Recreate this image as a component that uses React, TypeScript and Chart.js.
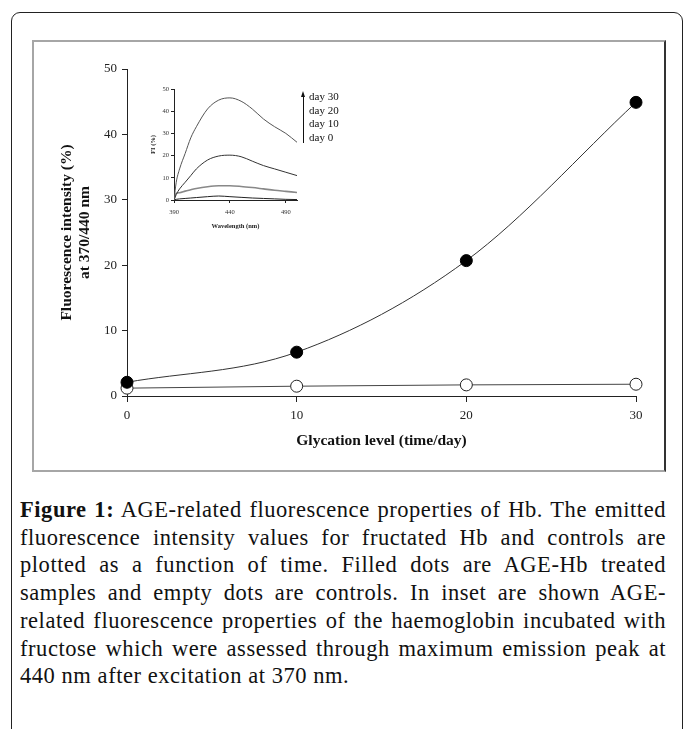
import React, { useEffect, useRef } from "react";
import { Chart, registerables } from "chart.js";

Chart.register(...registerables);

// ---- main chart data ----
const days = [0, 10, 20, 30];
const ageHb = [2.1, 6.7, 20.7, 44.9];
const controlHb = [1.2, 1.5, 1.7, 1.8];
const mainXTicks = [0, 10, 20, 30];
const mainYTicks = [0, 10, 20, 30, 40, 50];
const mainXTitle = "Glycation level (time/day)";
const mainYTitle = ["Fluorescence intensity (%)", "at 370/440 nm"];

// ---- inset data ----
const wavelengths = [390, 392, 395, 400, 405, 410, 420, 430, 440, 450, 460, 470, 480, 490, 500];
const day30 = [0, 8, 14, 21, 28, 33, 41, 45, 46, 44.5, 41, 36.5, 33, 30, 26];
const day20 = [0, 2.5, 5, 8, 11, 14, 18, 19.8, 20.2, 19.5, 17.5, 15.5, 14, 12.5, 11];
const day10 = [0, 3, 3.3, 4, 4.6, 5.2, 6, 6.4, 6.4, 6.1, 5.6, 5, 4.4, 3.9, 3.4];
const day0 = [0, 0.3, 0.5, 0.7, 0.9, 1.1, 1.5, 1.8, 1.5, 1.2, 0.9, 0.7, 0.5, 0.3, 0.2];
const insetXTicks = [390, 440, 490];
const insetYTicks = [0, 10, 20, 30, 40, 50];
const insetXTitle = "Wavelength (nm)";
const insetYTitle = "FI (%)";
const legendLabels = ["day 30", "day 20", "day 10", "day 0"];

const captionBold = "Figure 1:";
const captionLines = [
  " AGE-related fluorescence properties of Hb. The emitted",
  "fluorescence intensity values for fructated Hb and controls are",
  "plotted as a function of time. Filled dots are AGE-Hb treated",
  "samples and empty dots are controls. In inset are shown AGE-",
  "related fluorescence properties of the haemoglobin incubated with",
  "fructose which were assessed through maximum emission peak at",
  "440 nm after excitation at 370 nm.",
];

const SERIF = "'Liberation Serif', 'Times New Roman', serif";

const setTicks = (vals: number[]) => (s: any) => {
  s.ticks = vals.map((v) => ({ value: v }));
};

function MainChart() {
  const ref = useRef<HTMLCanvasElement>(null);
  useEffect(() => {
    const chart = new Chart(ref.current!, {
      type: "line",
      data: {
        datasets: [
          {
            data: days.map((d, i) => ({ x: d, y: ageHb[i] })),
            borderColor: "#333",
            borderWidth: 1,
            pointRadius: 6,
            pointBackgroundColor: "#000",
            pointBorderColor: "#000",
            pointBorderWidth: 1,
            cubicInterpolationMode: "monotone",
            clip: false,
          } as any,
          {
            data: days.map((d, i) => ({ x: d, y: controlHb[i] })),
            borderColor: "#444",
            borderWidth: 1,
            pointRadius: 6,
            pointBackgroundColor: "#fff",
            pointBorderColor: "#222",
            pointBorderWidth: 1,
            tension: 0,
            clip: false,
          } as any,
        ],
      },
      options: {
        animation: false,
        responsive: false,
        devicePixelRatio: 1,
        layout: { padding: { left: 0, top: 27, right: 28, bottom: 0 } },
        plugins: { legend: { display: false }, tooltip: { enabled: false } },
        scales: {
          x: {
            type: "linear",
            min: 0,
            max: 30,
            afterBuildTicks: setTicks(mainXTicks),
            ticks: { color: "#222", font: { family: SERIF, size: 13 }, padding: 6 },
            grid: { drawOnChartArea: false, tickLength: 6, color: "#222" },
            border: { color: "#222", width: 1 },
            title: {
              display: true,
              text: mainXTitle,
              color: "#111",
              font: { family: SERIF, size: 15.5, weight: "bold", lineHeight: "18px" },
              padding: { top: 0, bottom: 20 },
            },
            afterFit: (s: any) => {
              s.height = 74;
            },
          },
          y: {
            type: "linear",
            min: 0,
            max: 50,
            afterBuildTicks: setTicks(mainYTicks),
            ticks: { color: "#222", font: { family: SERIF, size: 13 }, padding: 5 },
            grid: { drawOnChartArea: false, tickLength: 5, color: "#222" },
            border: { color: "#222", width: 1 },
            title: {
              display: true,
              text: mainYTitle,
              color: "#111",
              font: { family: SERIF, size: 15.5, weight: "bold", lineHeight: "18px" },
              padding: { top: 24, bottom: 0 },
            },
            afterFit: (s: any) => {
              s.width = 93;
            },
          },
        },
      } as any,
    });
    return () => chart.destroy();
  }, []);
  return (
    <canvas
      ref={ref}
      width={630}
      height={428}
      style={{ position: "absolute", left: 34, top: 42, width: 630, height: 428 }}
    />
  );
}

function InsetChart() {
  const ref = useRef<HTMLCanvasElement>(null);
  useEffect(() => {
    const mk = (vals: number[], color: string, w: number) => ({
      data: wavelengths.map((x, i) => ({ x, y: vals[i] })),
      borderColor: color,
      borderWidth: w,
      pointRadius: 0,
      cubicInterpolationMode: "monotone",
    });
    const chart = new Chart(ref.current!, {
      type: "line",
      data: {
        datasets: [
          mk(day30, "#555", 1),
          mk(day20, "#333", 1),
          mk(day10, "#888", 1.6),
          mk(day0, "#222", 1),
        ] as any,
      },
      options: {
        animation: false,
        responsive: false,
        devicePixelRatio: 1,
        layout: { padding: { left: 0, top: 9, right: 5, bottom: 0 } },
        plugins: { legend: { display: false }, tooltip: { enabled: false } },
        scales: {
          x: {
            type: "linear",
            min: 390,
            max: 500,
            afterBuildTicks: setTicks(insetXTicks),
            ticks: { color: "#333", font: { family: SERIF, size: 6.5 }, padding: 5 },
            grid: { drawOnChartArea: false, tickLength: 3, color: "#222" },
            border: { color: "#222", width: 1 },
            title: {
              display: true,
              text: insetXTitle,
              color: "#222",
              font: { family: SERIF, size: 6.5, weight: "bold", lineHeight: "8px" },
              padding: { top: 0, bottom: 10 },
            },
            afterFit: (s: any) => {
              s.height = 40;
            },
          },
          y: {
            type: "linear",
            min: 0,
            max: 50,
            afterBuildTicks: setTicks(insetYTicks),
            ticks: { color: "#333", font: { family: SERIF, size: 6.5 }, padding: 2 },
            grid: { drawOnChartArea: false, tickLength: 3, color: "#222" },
            border: { color: "#222", width: 1 },
            title: {
              display: true,
              text: insetYTitle,
              color: "#222",
              font: { family: SERIF, size: 6.5, weight: "bold", lineHeight: "8px" },
              padding: { top: 19, bottom: 0 },
            },
            afterFit: (s: any) => {
              s.width = 44;
            },
          },
        },
      } as any,
    });
    return () => chart.destroy();
  }, []);
  return (
    <canvas
      ref={ref}
      width={172}
      height={160}
      style={{ position: "absolute", left: 130, top: 80, width: 172, height: 160 }}
    />
  );
}

export default function App() {
  const legendTop = 90;
  const legendLH = 13.7;
  return (
    <div
      style={{
        position: "absolute",
        left: 0,
        top: 0,
        width: 683,
        height: 729,
        overflow: "hidden",
        background: "#fff",
      }}
    >
      <div
        style={{
          position: "absolute",
          left: 11,
          top: 12,
          width: 672,
          height: 800,
          border: "1.5px solid #222",
          borderRadius: 9,
          boxSizing: "border-box",
        }}
      />
      <div
        style={{
          position: "absolute",
          left: 32,
          top: 40,
          width: 634,
          height: 432,
          boxSizing: "border-box",
          border: "2px solid #a6a6a6",
          borderRight: "2px solid #333",
        }}
      />
      <MainChart />
      <InsetChart />
      <div style={{ position: "absolute", left: 303, top: 96, width: 1.3, height: 47, background: "#111" }} />
      <div
        style={{
          position: "absolute",
          left: 301,
          top: 91,
          width: 0,
          height: 0,
          borderLeft: "2.6px solid transparent",
          borderRight: "2.6px solid transparent",
          borderBottom: "6px solid #111",
        }}
      />
      {legendLabels.map((t, i) => (
        <div
          key={t}
          style={{
            position: "absolute",
            left: 309,
            top: legendTop + i * legendLH,
            fontFamily: SERIF,
            fontSize: 11,
            lineHeight: `${legendLH}px`,
            color: "#111",
            whiteSpace: "nowrap",
          }}
        >
          {t}
        </div>
      ))}
      <div
        style={{
          position: "absolute",
          left: 20,
          top: 496,
          width: 646,
          fontFamily: SERIF,
          fontSize: 22.5,
          letterSpacing: 0.55,
          lineHeight: "27.7px",
          color: "#111",
        }}
      >
        {captionLines.map((line, i) => (
          <div
            key={i}
            style={{
              textAlign: i === captionLines.length - 1 ? "left" : "justify",
              textAlignLast: i === captionLines.length - 1 ? "left" : "justify",
              whiteSpace: "nowrap",
            } as any}
          >
            {i === 0 ? <b>{captionBold}</b> : null}
            {line}
          </div>
        ))}
      </div>
    </div>
  );
}
